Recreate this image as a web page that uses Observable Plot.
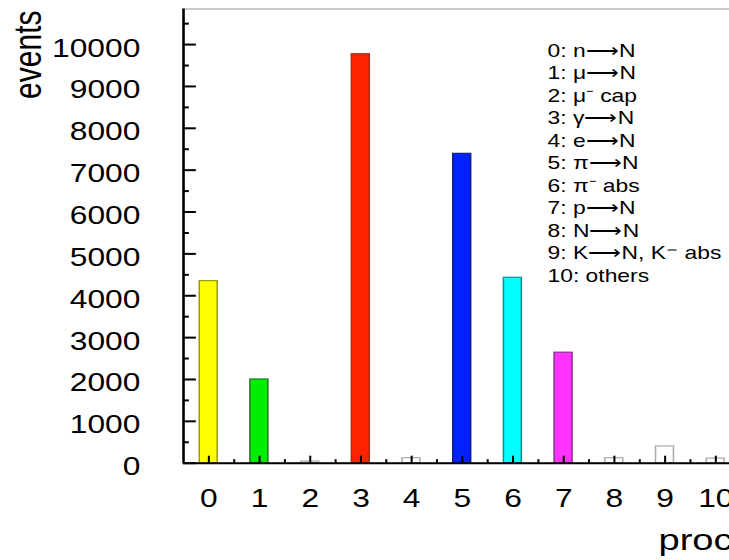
<!DOCTYPE html>
<html><head><meta charset="utf-8">
<script src="https://cdn.jsdelivr.net/npm/d3@7"></script>
<script src="https://cdn.jsdelivr.net/npm/@observablehq/plot@0.6"></script>
<style>
html,body{margin:0;padding:0;overflow:hidden;background:#fff;width:729px;height:560px}
#chart svg{transform:scaleX(1.27);transform-origin:0 0;display:block}
</style></head><body><div id="chart"></div>
<script>
const procIds = [0, 1, 2, 3, 4, 5, 6, 7, 8, 9, 10];
const eventCounts = [4350, 2000, 40, 9770, 120, 7390, 4430, 2640, 120, 400, 110];
const fillColors = ["#ffff00", "#00ee00", "#ffffff", "#ff2200", "#ffffff", "#0022ff", "#00ffff", "#ff33ff", "#ffffff", "#ffffff", "#ffffff"];
const strokeColors = ["#9a9a20", "#207a20", "#aaaaaa", "#a03020", "#aaaaaa", "#102080", "#208a8a", "#8a308a", "#aaaaaa", "#aaaaaa", "#aaaaaa"];
const legendLabels = ["0: n⟶N", "1: μ⟶N", "2: μ⁻ cap", "3: γ⟶N", "4: e⟶N", "5: π⟶N", "6: π⁻ abs", "7: p⟶N", "8: N⟶N", "9: K⟶N, K⁻ abs", "10: others"];
const yTitle = "events";
const xTitle = "process";
const yMajorTicks = [0, 1000, 2000, 3000, 4000, 5000, 6000, 7000, 8000, 9000, 10000];
const yMinorTicks = [500, 1500, 2500, 3500, 4500, 5500, 6500, 7500, 8500, 9500, 10500];
const xMajorTicks = [0, 1, 2, 3, 4, 5, 6, 7, 8, 9, 10, 11];
const xMinorTicks = [0.5, 1.5, 2.5, 3.5, 4.5, 5.5, 6.5, 7.5, 8.5, 9.5, 10.5];
const xTickLabels = procIds;

const W = 633, H = 560, ML = 144, MR = 10, MT = 8.5, MB = 97.3;
const innerW = W - ML - MR, innerH = H - MT - MB;
const data = procIds.map((p, i) => ({proc: p, events: eventCounts[i], fill: fillColors[i], stroke: strokeColors[i]}));

const chart = Plot.plot({
  width: W, height: H, marginLeft: ML, marginRight: MR, marginTop: MT, marginBottom: MB,
  style: {fontFamily: "'Liberation Sans', Arial, Helvetica, sans-serif", color: "#000", background: "#fff", overflow: "visible"},
  x: {domain: [-0.5, 11.5]},
  y: {domain: [0, 10850]},
  color: {type: "identity"},
  marks: [
    Plot.frame({stroke: "#bbb", strokeWidth: 1.5}),
    Plot.rectY(data, {x1: d => d.proc - 0.5, x2: d => d.proc + 0.5, y: "events", fill: "fill", stroke: "stroke", strokeWidth: 1.2, insetLeft: 12.9, insetRight: 12.9}),
    Plot.tickY(yMajorTicks, {y: d => d, insetRight: innerW - 10.2, stroke: "#000", strokeWidth: 2}),
    Plot.tickY(yMinorTicks, {y: d => d, insetRight: innerW - 4.7, stroke: "#000", strokeWidth: 2}),
    Plot.tickX(xMajorTicks, {x: d => d, insetTop: innerH - 7, stroke: "#000", strokeWidth: 1.6}),
    Plot.tickX(xMinorTicks, {x: d => d, insetTop: innerH - 3.5, stroke: "#000", strokeWidth: 1.6}),
    Plot.ruleX([-0.5], {stroke: "#000", strokeWidth: 2}),
    Plot.ruleY([0], {stroke: "#000", strokeWidth: 2}),
    Plot.axisY(yMajorTicks, {tickSize: 0, tickPadding: 34, fontSize: 25, tickFormat: d => String(d), dy: 4, label: null}),
    Plot.axisX(xTickLabels, {tickSize: 0, tickPadding: 26, fontSize: 25, tickFormat: d => String(d), label: null}),
    Plot.text([yTitle], {frameAnchor: "top-left", rotate: -90, textAnchor: "end", lineAnchor: "bottom", dx: -112, dy: 1.5, fontSize: 30}),
    Plot.text([xTitle], {frameAnchor: "bottom-right", textAnchor: "end", lineAnchor: "bottom", dy: 87, fontSize: 30}),
    Plot.text([legendLabels.join("\n")], {frameAnchor: "top-left", textAnchor: "start", lineAnchor: "top", lineHeight: 1.25, dx: 286.6, dy: 32, fontSize: 18})
  ]
});
document.getElementById("chart").appendChild(chart);
</script></body></html>
